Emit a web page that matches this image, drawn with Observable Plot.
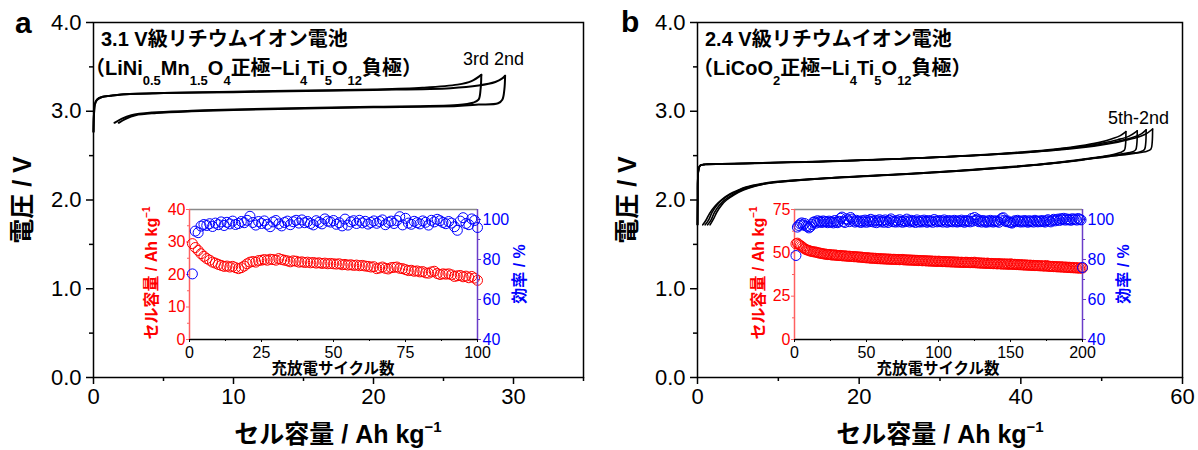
<!DOCTYPE html>
<html><head><meta charset="utf-8">
<script src="https://cdn.jsdelivr.net/npm/d3@7"></script>
<script src="https://cdn.jsdelivr.net/npm/@observablehq/plot@0.6"></script>
<style>
body{margin:0;background:#fff;}
#root{position:relative;width:1198px;height:450px;overflow:hidden;background:#fff;}
#root > svg{position:absolute;}
</style></head>
<body><div id="root"></div>
<script>
// ---------- main panel a : voltage vs capacity (2nd, 3rd cycle) ----------
const chargeA2 = [[0,2.77],[0.03,2.95],[0.1,3.08],[0.25,3.13],[0.6,3.16],[1.2,3.175],[2,3.19],[5,3.205],[10,3.215],[14,3.225],[20,3.24],[25.5,3.26],[27.5,3.29],[28.7,3.33],[29.2,3.37],[29.4,3.40]];
const dischargeA2 = [[29.4,3.40],[29.35,3.25],[29.2,3.13],[28.9,3.09],[27.5,3.075],[26,3.06],[20,3.045],[16,3.035],[10,3.015],[7,3.0],[4.5,2.98],[3,2.955],[2.3,2.915],[1.8,2.87]];
const chargeA3 = [[0,2.77],[0.03,2.95],[0.1,3.08],[0.25,3.13],[0.6,3.16],[1.2,3.175],[2,3.19],[5,3.205],[10,3.22],[14,3.23],[20,3.245],[23.5,3.265],[26,3.30],[27,3.34],[27.7,3.41]];
const dischargeA3 = [[27.7,3.41],[27.65,3.25],[27.5,3.13],[27.1,3.095],[26,3.07],[20,3.05],[16,3.04],[10,3.02],[7,3.005],[4.2,2.985],[2.7,2.955],[2.0,2.915],[1.5,2.87]];

// ---------- main panel b : voltage vs capacity (2nd-5th cycle) ----------
const chargeB5 = [[0,1.72],[0.02,2.0],[0.08,2.3],[0.3,2.385],[1,2.40],[3,2.405],[6,2.41],[10,2.42],[15,2.43],[20,2.445],[25,2.462],[30,2.483],[35,2.508],[40,2.54],[44,2.572],[48,2.62],[50,2.655],[51.3,2.69],[52.3,2.725],[53.0,2.77]];
const chargeB4 = [[0,1.72],[0.02,2.0],[0.08,2.3],[0.3,2.385],[1,2.40],[3,2.405],[6,2.412],[10,2.422],[15,2.432],[20,2.447],[25,2.463],[30,2.483],[35,2.506],[40,2.536],[44,2.567],[48,2.61],[50,2.64],[52,2.68],[53.4,2.72],[54.4,2.78]];
const chargeB3 = [[0,1.72],[0.02,2.0],[0.08,2.3],[0.3,2.387],[1,2.402],[3,2.407],[6,2.413],[10,2.423],[15,2.433],[20,2.448],[25,2.464],[30,2.483],[35,2.505],[40,2.533],[44,2.562],[48,2.602],[50,2.628],[52,2.662],[54,2.71],[54.9,2.745],[55.5,2.79]];
const chargeB2 = [[0,1.72],[0.02,2.0],[0.08,2.3],[0.3,2.388],[1,2.403],[3,2.408],[6,2.414],[10,2.424],[15,2.434],[20,2.449],[25,2.465],[30,2.484],[35,2.504],[40,2.53],[44,2.557],[48,2.595],[50,2.62],[52,2.652],[54,2.695],[55.4,2.74],[56.3,2.80]];
const dischargeB5 = [[53.0,2.77],[52.95,2.62],[52.8,2.56],[52.3,2.535],[51,2.505],[48,2.465],[44,2.42],[38,2.37],[32,2.33],[26,2.295],[20,2.268],[14,2.238],[10,2.21],[8,2.185],[6,2.145],[5,2.11],[4,2.068],[3,2.005],[2.2,1.935],[1.5,1.85],[1.1,1.78],[0.65,1.72]];
const dischargeB4 = [[54.4,2.78],[54.35,2.63],[54.2,2.565],[53.7,2.54],[52,2.512],[48,2.46],[44,2.415],[38,2.365],[32,2.325],[26,2.292],[20,2.265],[14,2.235],[10,2.205],[8,2.18],[6,2.14],[5,2.104],[4,2.06],[3,1.997],[2.4,1.94],[1.8,1.86],[1.4,1.78],[0.95,1.72]];
const dischargeB3 = [[55.5,2.79],[55.45,2.64],[55.3,2.57],[54.8,2.545],[53,2.517],[50,2.483],[46,2.435],[40,2.378],[34,2.337],[28,2.302],[22,2.272],[16,2.243],[11,2.21],[8.5,2.185],[6.5,2.145],[5.3,2.105],[4.3,2.058],[3.3,1.997],[2.7,1.94],[2.1,1.86],[1.7,1.78],[1.25,1.72]];
const dischargeB2 = [[56.3,2.80],[56.25,2.65],[56.1,2.575],[55.6,2.55],[54,2.525],[51,2.492],[47,2.443],[41,2.388],[35,2.347],[29,2.312],[23,2.282],[17,2.252],[12,2.218],[9,2.192],[7,2.152],[5.7,2.112],[4.6,2.062],[3.6,2.0],[3.0,1.945],[2.4,1.865],[2.0,1.79],[1.55,1.72]];

// ---------- inset a : cycle performance (100 cycles) ----------
const capA = [29.5,28.3,27.4,26.4,25.6,24.9,24.4,23.8,23.5,23.1,
22.8,22.5,22.6,22.3,22.5,22.1,21.8,22.1,22.6,23.3,
23.8,24.0,23.8,24.3,24.4,24.6,24.4,24.7,24.6,24.4,
24.9,24.6,24.4,24.2,23.9,24.2,24.1,23.8,23.9,23.7,
23.8,23.6,23.7,23.5,23.6,23.4,23.5,23.3,23.4,23.3,
23.2,23.3,23.0,23.1,22.9,23.0,22.8,22.9,22.7,22.8,
22.6,22.5,22.3,22.4,21.8,22.0,22.3,21.9,21.7,22.1,
22.2,22.3,21.9,21.8,21.5,21.2,21.3,21.0,21.1,20.8,
20.9,20.5,20.4,20.8,21.0,20.3,20.0,20.2,20.1,20.2,
19.9,19.4,19.6,19.7,19.3,19.5,19.0,19.4,18.9,18.2];
const effA = [72.8,94.2,93.4,96.7,97.5,97.0,97.9,96.5,98.2,97.4,
98.8,97.0,98.6,97.8,99.2,97.5,98.0,99.0,98.4,99.6,
101.6,98.5,97.2,99.0,98.0,99.3,97.6,96.4,98.8,99.5,
97.8,96.8,98.5,99.2,97.4,98.9,99.6,98.2,99.8,98.4,
99.0,98.0,97.3,99.4,98.6,97.8,100.3,99.2,98.7,99.5,
97.6,98.4,96.8,100.2,97.2,98.8,99.4,98.0,99.6,98.3,
99.1,97.7,98.5,99.3,98.1,99.0,99.8,97.4,98.6,99.2,
98.0,99.5,101.4,97.3,100.6,98.2,97.6,99.1,98.4,97.8,
99.3,98.6,97.2,99.6,98.8,100.1,99.4,98.5,97.9,99.0,
98.2,96.4,94.6,99.2,100.9,98.0,97.4,100.3,99.5,96.0];

// ---------- inset b : cycle performance (200 cycles) ----------
const capB = [55.2,55.6,54.8,54.3,53.7,53.0,52.3,51.9,51.6,51.3,
51.0,50.8,50.6,50.5,50.4,50.1,49.9,49.8,49.6,49.4,
49.3,49.2,49.0,49.1,48.9,48.8,48.7,48.8,48.6,48.5,
48.4,48.5,48.3,48.2,48.3,48.1,48.0,48.1,47.9,47.9,
47.8,47.7,47.8,47.6,47.5,47.6,47.4,47.3,47.2,47.1,
47.2,47.0,46.9,47.0,46.8,46.9,46.7,46.6,46.7,46.5,
46.6,46.5,46.4,46.5,46.3,46.4,46.3,46.2,46.3,46.2,
46.1,46.2,46.0,46.1,46.2,45.9,46.0,45.9,45.8,45.9,
45.8,45.7,45.8,45.6,45.7,45.5,45.6,45.5,45.4,45.5,
45.4,45.3,45.4,45.2,45.3,45.2,45.1,45.2,45.0,45.2,
45.1,45.0,44.9,45.0,44.9,44.8,44.9,44.8,44.7,44.8,
44.7,44.6,44.7,44.6,44.5,44.6,44.5,44.4,44.6,44.5,
44.4,44.3,44.5,44.3,44.6,44.2,44.3,44.1,44.2,44.0,
44.1,44.0,43.9,44.1,43.9,43.8,43.9,43.7,43.8,43.7,
43.6,43.8,43.6,43.5,43.7,43.4,43.6,43.5,43.3,43.7,
43.4,43.3,43.4,43.2,43.3,43.1,43.2,43.0,43.1,42.9,
43.0,42.9,42.8,42.9,42.7,42.8,42.6,42.7,42.6,42.5,
42.6,42.4,42.5,42.3,42.7,42.2,42.3,42.1,42.2,42.0,
42.1,41.9,42.0,41.8,42.0,41.7,41.9,41.6,41.8,41.5,
41.7,41.4,41.6,41.3,41.5,41.2,41.4,41.1,41.3,41.2];
const effB = [82.0,96.2,97.0,97.8,98.3,97.2,98.0,96.8,96.5,95.8,
96.4,97.5,98.6,98.9,98.2,99.4,98.7,99.1,98.5,99.3,
98.8,99.0,98.4,99.2,98.6,98.9,98.3,99.5,98.7,98.4,
99.1,100.6,101.2,99.0,98.5,100.4,99.8,98.9,101.0,100.2,
99.3,98.7,99.6,98.9,99.2,98.5,99.4,98.8,99.7,98.6,
99.5,98.9,100.1,99.2,98.7,99.6,98.4,99.3,99.9,98.8,
99.4,98.6,99.8,99.1,98.5,99.6,100.3,98.9,99.2,98.7,
99.5,98.8,99.9,99.1,98.6,99.4,98.9,100.2,99.3,98.7,
99.6,98.9,99.2,98.5,99.8,99.0,98.7,99.4,98.8,99.7,
99.1,98.6,99.5,98.9,99.3,98.6,100.0,99.2,98.8,99.5,
98.9,99.4,98.7,99.8,99.1,98.6,99.5,98.9,99.3,98.8,
99.6,99.0,98.7,99.4,98.9,99.7,99.1,98.6,99.5,99.0,
99.3,98.8,100.5,99.2,101.0,99.6,100.2,98.9,99.4,98.7,
99.5,99.0,98.6,99.3,98.8,99.6,99.1,98.7,99.4,98.9,
99.2,98.6,99.8,100.6,100.9,99.5,98.9,99.3,98.7,98.5,
98.2,98.8,99.4,98.9,99.6,99.1,98.7,99.3,98.8,99.5,
99.0,98.6,99.4,98.9,99.2,98.7,99.6,99.1,98.8,99.3,
98.9,99.5,99.0,98.7,99.4,99.9,99.2,98.8,99.6,100.1,
99.3,99.8,100.2,99.5,100.4,99.9,100.6,99.7,100.3,99.8,
100.1,99.6,100.4,99.9,100.2,99.7,100.5,100.0,99.8,76.0];

// ---------- ticks ----------
const mainYTicks = [0,1,2,3,4], mainYMinor = [0.5,1.5,2.5,3.5];
const aXTicks = [0,10,20,30], aXMinor = [5,15,25,35];
const bXTicks = [0,20,40,60], bXMinor = [10,30,50];
const insAX = [0,25,50,75,100], insAXMinor = [12.5,37.5,62.5,87.5];
const insBX = [0,50,100,150,200], insBXMinor = [25,75,125,175];
const insACap = [0,10,20,30,40], insACapMinor = [5,15,25,35];
const insBCap = [0,25,50,75], insBCapMinor = [12.5,37.5,62.5];
const effTicks = [40,60,80,100], effMinor = [50,70,90];

const FONT = '"Liberation Sans", Arial, "Noto Sans CJK JP", sans-serif';
const RED = "#ff0000", BLUE = "#0000ff";
const root = document.getElementById("root");

function place(svg, left, top) {
  svg.style.left = left + "px"; svg.style.top = top + "px";
  root.appendChild(svg);
}
const baseStyle = {fontFamily: FONT, color: "black", background: "transparent", overflow: "visible"};

function mainPlot({width, mL, mR, xDomain, xTicks, xMinor, curves, sw}) {
  return Plot.plot({
    width, height: 450, marginLeft: mL, marginRight: mR, marginTop: 22, marginBottom: 73,
    style: {...baseStyle, fontSize: "22px"},
    x: {domain: xDomain, label: null}, y: {domain: [0, 4], label: null},
    marks: [
      Plot.axisY({ticks: mainYTicks, tickFormat: d3.format(".1f"), tickSize: 7, tickPadding: 5, fontSize: 22, strokeWidth: 1.5, label: null}),
      Plot.axisY({ticks: mainYMinor, tickFormat: () => "", tickSize: 4, strokeWidth: 1.5, label: null}),
      Plot.axisX({ticks: xTicks, tickSize: 7, tickPadding: 4, fontSize: 22, strokeWidth: 1.5, label: null}),
      Plot.axisX({ticks: xMinor, tickFormat: () => "", tickSize: 4, strokeWidth: 1.5, label: null}),
      ...curves.map(c => Plot.line(c, {x: d => d[0], y: d => d[1], stroke: "black", strokeWidth: sw, curve: "catmull-rom"})),
      Plot.frame({stroke: "black", strokeWidth: 1.5})
    ]
  });
}

const IW = 288, IH = 130, IML = 45, IMR = 45, IMT = 10, IMB = 35;
function insetCap({xDomain, xTicks, xMinor, yDomain, yTicks, yMinor, values}) {
  const data = values.map((v, i) => ({c: i + 1, v}));
  return Plot.plot({
    width: IW + IML + IMR, height: IH + IMT + IMB, marginLeft: IML, marginRight: IMR, marginTop: IMT, marginBottom: IMB,
    style: {...baseStyle, fontSize: "16px"},
    x: {domain: xDomain, label: null}, y: {domain: yDomain, label: null},
    marks: [
      Plot.ruleY([yDomain[1]], {stroke: "#8a8a8a", strokeWidth: 1.5}),
      Plot.ruleY([yDomain[0]], {stroke: "black", strokeWidth: 1.5}),
      Plot.ruleX([xDomain[0]], {stroke: "#ff6060", strokeWidth: 1.5}),
      Plot.axisY({ticks: yTicks, tickSize: 3, tickPadding: 1, fontSize: 16, fill: RED, stroke: "#ff6060", label: null}),
      Plot.axisY({ticks: yMinor, tickFormat: () => "", tickSize: 2, stroke: "#ff6060", label: null}),
      Plot.axisX({ticks: xTicks, tickSize: 3, tickPadding: 4, fontSize: 16, label: null}),
      Plot.axisX({ticks: xMinor, tickFormat: () => "", tickSize: 2, label: null}),
      Plot.dot(data, {x: "c", y: "v", r: 5, stroke: RED, strokeWidth: 1, fill: "none"})
    ]
  });
}
function insetEff({xDomain, values}) {
  const data = values.map((v, i) => ({c: i + 1, v}));
  return Plot.plot({
    width: IW + IML + IMR, height: IH + IMT + IMB, marginLeft: IML, marginRight: IMR, marginTop: IMT, marginBottom: IMB,
    style: {...baseStyle, fontSize: "16px"},
    x: {domain: xDomain, label: null, axis: null}, y: {domain: [40, 105], label: null},
    marks: [
      Plot.ruleX([xDomain[1]], {stroke: "#6a3cc8", strokeWidth: 1.5}),
      Plot.axisY({anchor: "right", ticks: effTicks, tickSize: 3, tickPadding: 2, fontSize: 16, fill: BLUE, stroke: "#6a3cc8", label: null}),
      Plot.axisY({anchor: "right", ticks: effMinor, tickFormat: () => "", tickSize: 2, stroke: "#6a3cc8", label: null}),
      Plot.dot(data, {x: "c", y: "v", r: 5, stroke: BLUE, strokeWidth: 1, fill: "none"})
    ]
  });
}

place(mainPlot({width: 600, mL: 93, mR: 17, xDomain: [0, 35], xTicks: aXTicks, xMinor: aXMinor,
  curves: [chargeA2, dischargeA2, chargeA3, dischargeA3], sw: 2}), 0, 0);
place(mainPlot({width: 598, mL: 97, mR: 16, xDomain: [0, 60], xTicks: bXTicks, xMinor: bXMinor,
  curves: [chargeB5, dischargeB5, chargeB4, dischargeB4, chargeB3, dischargeB3, chargeB2, dischargeB2], sw: 1.6}), 600, 0);

place(insetCap({xDomain: [0, 100], xTicks: insAX, xMinor: insAXMinor, yDomain: [0, 40], yTicks: insACap, yMinor: insACapMinor, values: capA}), 189 - IML, 209 - IMT);
place(insetEff({xDomain: [0, 100], values: effA}), 189 - IML, 209 - IMT);
place(insetCap({xDomain: [0, 200], xTicks: insBX, xMinor: insBXMinor, yDomain: [0, 75], yTicks: insBCap, yMinor: insBCapMinor, values: capB}), 794 - IML, 209 - IMT);
place(insetEff({xDomain: [0, 200], values: effB}), 794 - IML, 209 - IMT);

// ---------- text overlay ----------
const ov = d3.select(root).append("svg").attr("width", 1198).attr("height", 450)
  .style("left", "0px").style("top", "0px").style("pointer-events", "none");
function addText({x, y, parts, size, weight = "bold", fill = "black", anchor = "start", rotate = false,
                  subSize = 13, subShift = 10, supSize = 14, supShift = 10}) {
  const t = ov.append("text").attr("font-size", size).attr("font-weight", weight).attr("fill", fill)
    .attr("text-anchor", anchor).attr("font-family", FONT);
  if (rotate) t.attr("transform", `translate(${x},${y}) rotate(-90)`).attr("x", 0).attr("y", size * 0.35);
  else t.attr("x", x).attr("y", y);
  let off = 0;
  for (const p of parts) {
    const [s, k] = Array.isArray(p) ? p : [p, "n"];
    const target = k === "sub" ? subShift : k === "sup" ? -supShift : 0;
    const ts = t.append("tspan").text(s).attr("dy", target - off);
    if (k === "sub") ts.attr("font-size", subSize);
    if (k === "sup") ts.attr("font-size", supSize);
    off = target;
  }
}
// panel letters
addText({x: 15, y: 33, parts: ["a"], size: 30});
addText({x: 621, y: 32, parts: ["b"], size: 30});
// axis titles
addText({x: 22, y: 200, parts: ["電圧 / V"], size: 25, anchor: "middle", rotate: true});
addText({x: 627, y: 200, parts: ["電圧 / V"], size: 25, anchor: "middle", rotate: true});
addText({x: 338, y: 443, parts: ["セル容量 / Ah kg", ["−1", "sup"]], size: 25, anchor: "middle", supSize: 15, supShift: 11});
addText({x: 940, y: 443, parts: ["セル容量 / Ah kg", ["−1", "sup"]], size: 25, anchor: "middle", supSize: 15, supShift: 11});
// inset titles
addText({x: 333, y: 374, parts: ["充放電サイクル数"], size: 15.5, anchor: "middle"});
addText({x: 938, y: 374, parts: ["充放電サイクル数"], size: 15.5, anchor: "middle"});
addText({x: 151, y: 273, parts: ["セル容量 / Ah kg", ["−1", "sup"]], size: 16, fill: RED, anchor: "middle", rotate: true, supSize: 10, supShift: 7});
addText({x: 758, y: 273, parts: ["セル容量 / Ah kg", ["−1", "sup"]], size: 16, fill: RED, anchor: "middle", rotate: true, supSize: 10, supShift: 7});
addText({x: 519, y: 274, parts: ["効率 / %"], size: 16, fill: BLUE, anchor: "middle", rotate: true});
addText({x: 1123, y: 274, parts: ["効率 / %"], size: 16, fill: BLUE, anchor: "middle", rotate: true});
// panel annotations
addText({x: 101, y: 46, parts: ["3.1 V級リチウムイオン電池"], size: 20});
addText({x: 85, y: 75, parts: ["（LiNi", ["0.5", "sub"], "Mn", ["1.5", "sub"], "O", ["4", "sub"], "正極−Li", ["4", "sub"], "Ti", ["5", "sub"], "O", ["12", "sub"], "負極）"], size: 20});
addText({x: 705, y: 46, parts: ["2.4 V級リチウムイオン電池"], size: 20});
addText({x: 693, y: 75, parts: ["（LiCoO", ["2", "sub"], "正極−Li", ["4", "sub"], "Ti", ["5", "sub"], "O", ["12", "sub"], "負極）"], size: 20});
addText({x: 463, y: 65, parts: ["3rd 2nd"], size: 18, weight: "normal"});
addText({x: 1108, y: 124, parts: ["5th-2nd"], size: 18, weight: "normal"});
</script></body></html>
